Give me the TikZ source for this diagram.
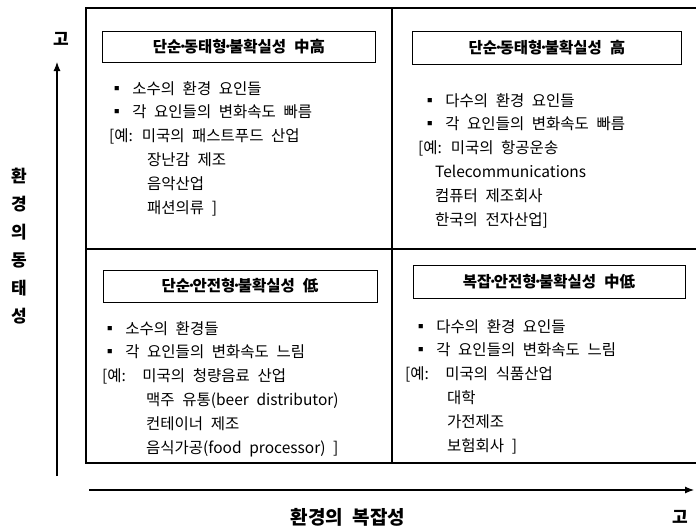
\documentclass[tikz,border=0pt]{standalone}
\usepackage{fontspec}
\setmainfont{Noto Sans CJK KR}[WordSpace=2.2]
\usetikzlibrary{arrows.meta}
\newcommand{\sepdot}{\kern-3.5pt·\kern-3.5pt}

\begin{document}
\begin{tikzpicture}[x=1pt,y=-1pt,
	titlebox/.style={draw,line width=1pt,inner sep=0pt,font=\bfseries\fontsize{15.5}{18}\selectfont},
	itembox/.style={anchor=north west,align=left,inner sep=0pt,font=\fontsize{15.5}{23.8}\selectfont},
	axislabel/.style={font=\bfseries\fontsize{17}{28}\selectfont}]
	\useasboundingbox (0,0) rectangle (696,530);
	\draw [line width=1.3pt] (696,8) -| (86,463) -- (696,463);
	\draw [line width=1.3pt] (392,8) -- (392,463);
	\draw [line width=1.3pt] (86,249) -- (696,249);
	% quadrant titles
	\node [titlebox,minimum width=273pt,minimum height=31pt] (tltitle) at (239,47) {단순\sepdot 동태형\sepdot 불확실성 中高};
	\node [titlebox,minimum width=269pt,minimum height=33pt] (trtitle) at (547,48) {단순\sepdot 동태형\sepdot 불확실성 高};
	\node [titlebox,minimum width=274pt,minimum height=32pt] (bltitle) at (240,286) {단순\sepdot 안전형\sepdot 불확실성 低};
	\node [titlebox,minimum width=272pt,minimum height=33pt] (brtitle) at (549,282) {복잡\sepdot 안전형\sepdot 불확실성 中低};
	% quadrant items
	\node [itembox] (tlitems) at (109,81) {▪ 소수의 환경 요인들\\▪ 각 요인들의 변화속도 빠름\\{[}예: 미국의 패스트푸드 산업\\\hspace*{38pt}장난감 제조\\\hspace*{38pt}음악산업\\\hspace*{38pt}패션의류 ]};
	\node [itembox] (tritems) at (418,93) {\hspace*{4pt}▪ 다수의 환경 요인들\\\hspace*{4pt}▪ 각 요인들의 변화속도 빠름\\{[}예: 미국의 항공운송\\\hspace*{17pt}Telecommunications\\\hspace*{17pt}컴퓨터 제조회사\\\hspace*{17pt}한국의 전자산업]};
	\node [itembox] (blitems) at (102,321) {▪ 소수의 환경들\\▪ 각 요인들의 변화속도 느림\\{[}예:~ 미국의 청량음료 산업\\\hspace*{44pt}맥주 유통(beer distributor)\\\hspace*{44pt}컨테이너 제조\\\hspace*{44pt}음식가공(food processor) ]};
	\node [itembox] (britems) at (405,319) {\hspace*{8pt}▪ 다수의 환경 요인들\\\hspace*{8pt}▪ 각 요인들의 변화속도 느림\\{[}예:~ 미국의 식품산업\\\hspace*{42pt}대학\\\hspace*{42pt}가전제조\\\hspace*{42pt}보험회사 ]};
	% axes
	\coordinate (ybot) at (57,476);
	\coordinate (ytop) at (57,62);
	\coordinate (xleft) at (89,490);
	\coordinate (xright) at (694,490);
	\draw [line width=1.1pt,-{Latex[length=9pt,width=7pt]}] (ybot) -- (ytop);
	\draw [line width=1.1pt,-{Latex[length=9pt,width=7pt]}] (xleft) -- (xright);
	\node [axislabel] (yhigh) at (61,39) {고};
	\node [axislabel] (xhigh) at (680,517) {고};
	\node [axislabel,align=center] (ylabel) at (19,246) {환\\경\\의\\동\\태\\성};
	\node [axislabel,font=\bfseries\fontsize{19}{22}\selectfont] (xlabel) at (348,517) {환경의 복잡성};
\end{tikzpicture}
\end{document}
